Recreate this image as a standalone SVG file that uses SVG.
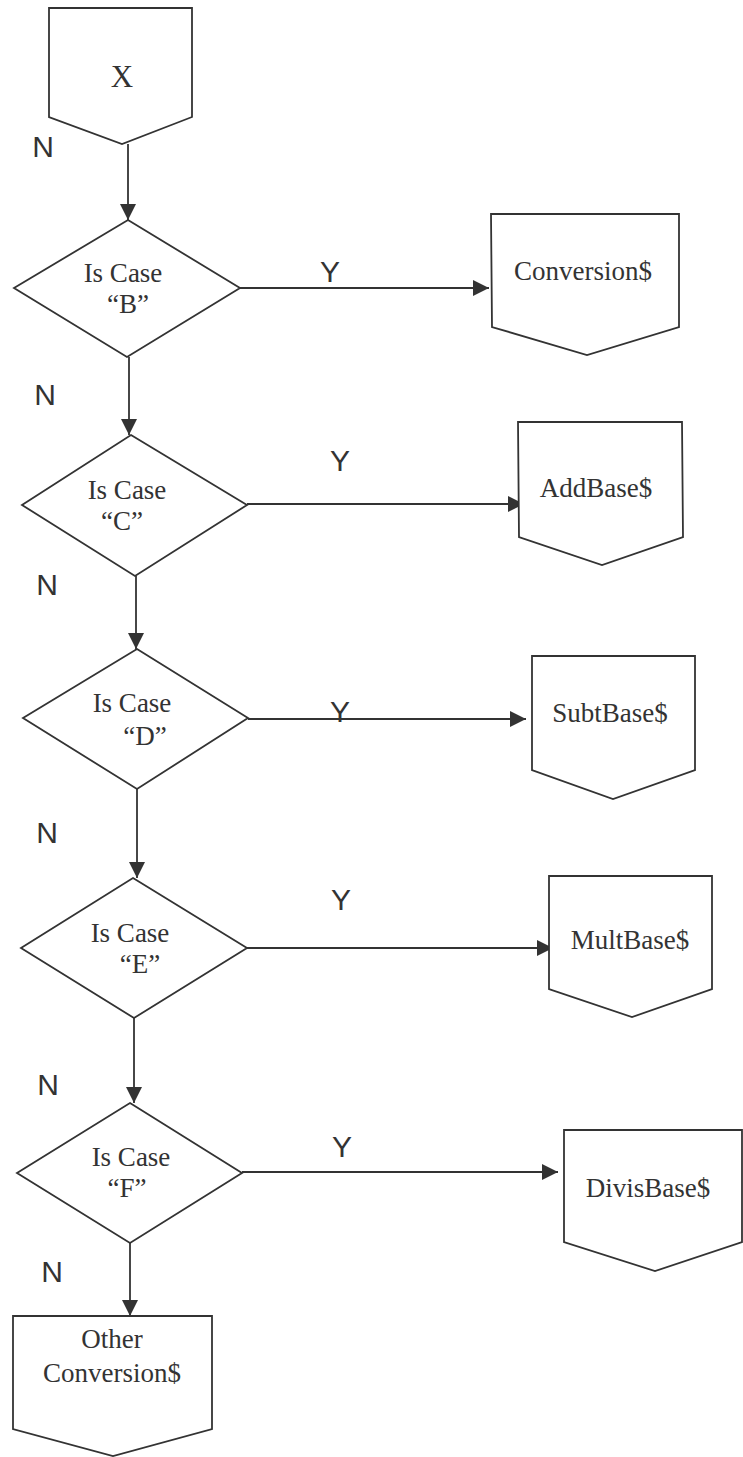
<svg xmlns="http://www.w3.org/2000/svg" width="743" height="1457" viewBox="0 0 743 1457">
<style>
.shape{fill:#fff;stroke:#333;stroke-width:1.8;stroke-linejoin:miter}
.conn{fill:none;stroke:#333;stroke-width:1.8}
.t{font-family:"Liberation Serif","Times New Roman",serif;font-size:27px;fill:#333;text-anchor:middle}
.lbl{font-family:"Liberation Sans",Arial,sans-serif;font-size:30px;fill:#333;text-anchor:middle}
</style>
<defs>
<marker id="arr" markerUnits="userSpaceOnUse" markerWidth="18" markerHeight="16" refX="16" refY="8" orient="auto">
<path d="M0,0 L16,8 L0,16 Z" fill="#333"/>
</marker>
</defs>
<rect width="743" height="1457" fill="#fff"/>
<g id="connectors">
<line class="conn" x1="128" y1="144" x2="128" y2="220" marker-end="url(#arr)"/>
<line class="conn" x1="129" y1="357" x2="129" y2="435" marker-end="url(#arr)"/>
<line class="conn" x1="136" y1="576" x2="136" y2="649" marker-end="url(#arr)"/>
<line class="conn" x1="137" y1="789" x2="137" y2="878" marker-end="url(#arr)"/>
<line class="conn" x1="134" y1="1018" x2="134" y2="1103" marker-end="url(#arr)"/>
<line class="conn" x1="130" y1="1243" x2="130" y2="1316" marker-end="url(#arr)"/>
<line class="conn" x1="240" y1="288" x2="489" y2="288" marker-end="url(#arr)"/>
<line class="conn" x1="247" y1="504" x2="524" y2="504" marker-end="url(#arr)"/>
<line class="conn" x1="248" y1="719" x2="526" y2="719" marker-end="url(#arr)"/>
<line class="conn" x1="247" y1="948" x2="553" y2="948" marker-end="url(#arr)"/>
<line class="conn" x1="242" y1="1172" x2="558" y2="1172" marker-end="url(#arr)"/>
<text class="lbl" x="43" y="157">N</text>
<text class="lbl" x="45" y="405">N</text>
<text class="lbl" x="47" y="595">N</text>
<text class="lbl" x="47" y="843">N</text>
<text class="lbl" x="48" y="1095">N</text>
<text class="lbl" x="52" y="1282">N</text>
<text class="lbl" x="330" y="282">Y</text>
<text class="lbl" x="340" y="471">Y</text>
<text class="lbl" x="340" y="722">Y</text>
<text class="lbl" x="341" y="910">Y</text>
<text class="lbl" x="342" y="1157">Y</text>
</g>
<g id="nodeX">
<path class="shape" d="M49,8 L192,8 L192,117 L122,144 L49,117 Z"/>
<text class="t" x="122" y="87" style="font-size:31px">X</text>
</g>
<g id="caseB">
<path class="shape" d="M128,220 L240,288 L127,357 L14,288 Z"/>
<text class="t" x="123" y="282">Is Case</text>
<text class="t" x="128" y="313">“B”</text>
</g>
<g id="conversion">
<path class="shape" d="M491,214 L679,214 L679,327 L587,355 L492,327 Z"/>
<text class="t" x="583" y="280">Conversion$</text>
</g>
<g id="caseC">
<path class="shape" d="M131,435 L247,505 L135,576 L22,505 Z"/>
<text class="t" x="127" y="499">Is Case</text>
<text class="t" x="122" y="530">“C”</text>
</g>
<g id="addbase">
<path class="shape" d="M518,422 L682,422 L683,537 L602,565 L519,537 Z"/>
<text class="t" x="596" y="497">AddBase$</text>
</g>
<g id="caseD">
<path class="shape" d="M137,649 L248,718 L137,789 L23,718 Z"/>
<text class="t" x="132" y="712">Is Case</text>
<text class="t" x="145" y="745">“D”</text>
</g>
<g id="subtbase">
<path class="shape" d="M532,656 L695,656 L695,770 L613,799 L532,770 Z"/>
<text class="t" x="610" y="722">SubtBase$</text>
</g>
<g id="caseE">
<path class="shape" d="M133,878 L247,948 L134,1018 L21,948 Z"/>
<text class="t" x="130" y="942">Is Case</text>
<text class="t" x="140" y="973">“E”</text>
</g>
<g id="multbase">
<path class="shape" d="M549,876 L712,876 L712,989 L632,1017 L549,989 Z"/>
<text class="t" x="630" y="949">MultBase$</text>
</g>
<g id="caseF">
<path class="shape" d="M130,1103 L242,1173 L130,1243 L17,1173 Z"/>
<text class="t" x="131" y="1166">Is Case</text>
<text class="t" x="127" y="1197">“F”</text>
</g>
<g id="divisbase">
<path class="shape" d="M564,1130 L742,1130 L742,1242 L655,1271 L564,1242 Z"/>
<text class="t" x="648" y="1197">DivisBase$</text>
</g>
<g id="other">
<path class="shape" d="M13,1316 L212,1316 L212,1429 L113,1456 L13,1429 Z"/>
<text class="t" x="112" y="1348">Other</text>
<text class="t" x="112" y="1382">Conversion$</text>
</g>
</svg>
